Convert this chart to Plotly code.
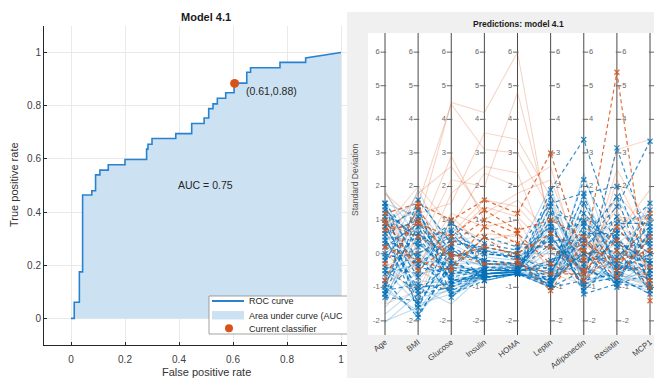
import plotly.graph_objects as go

# ---------------- Left panel: ROC curve data ----------------
roc_fpr = [0, 0.012, 0.012, 0.031, 0.031, 0.043, 0.043, 0.077, 0.077, 0.091, 0.091,
           0.107, 0.107, 0.138, 0.138, 0.2, 0.2, 0.28, 0.28, 0.285, 0.285, 0.3, 0.3,
           0.388, 0.388, 0.447, 0.447, 0.493, 0.493, 0.51, 0.51, 0.526, 0.526, 0.542,
           0.542, 0.573, 0.573, 0.604, 0.604, 0.651, 0.651, 0.665, 0.665, 0.774, 0.774,
           0.869, 0.869, 1.0]
roc_tpr = [0, 0, 0.061, 0.061, 0.175, 0.175, 0.464, 0.464, 0.48, 0.48, 0.54, 0.54,
           0.558, 0.558, 0.578, 0.578, 0.598, 0.598, 0.637, 0.637, 0.655, 0.655, 0.677,
           0.677, 0.695, 0.695, 0.733, 0.733, 0.754, 0.754, 0.789, 0.789, 0.807, 0.807,
           0.828, 0.828, 0.849, 0.849, 0.885, 0.885, 0.926, 0.926, 0.943, 0.943, 0.963,
           0.963, 0.98, 1.0]
op_fpr = [0.606]
op_tpr = [0.884]
auc_value = 0.75
roc_ticks = [0, 0.2, 0.4, 0.6, 0.8, 1]
roc_ticktext = ["0", "0.2", "0.4", "0.6", "0.8", "1"]

# ---------------- Right panel: parallel coordinates data ----------------
features = ["Age", "BMI", "Glucose", "Insulin", "HOMA", "Leptin", "Adiponectin", "Resistin", "MCP1"]
pc_ticks = [-2, -1, 0, 1, 2, 3, 4, 5, 6]

healthy_ok = [
    [-2.05, -1.2, -0.8, -0.6, -0.55, -0.9, 0.3, -0.6, -0.9],
    [-1.6, -0.5, -1.0, -0.5, -0.5, -0.5, -0.4, -0.7, -0.6],
    [-1.2, 0.3, -0.5, -0.7, -0.6, -0.3, 1.0, -0.5, 0.2],
    [-0.8, 1.2, -0.2, -0.3, -0.4, 0.8, -0.6, -0.2, 0.5],
    [-0.5, -1.5, -1.2, -0.6, -0.55, -1.0, 0.5, -0.8, -1.0],
    [0.0, 0.8, -0.6, -0.4, -0.45, 1.2, -0.3, 0.3, 1.0],
    [0.4, -0.8, -0.9, -0.7, -0.6, -0.7, 1.5, -0.4, -0.3],
    [0.9, 1.6, 0.3, -0.2, -0.3, 1.6, -0.8, 0.6, 0.3],
    [1.3, -0.2, -0.3, -0.5, -0.5, -0.2, 0.2, 1.0, -0.5],
    [1.8, 0.5, -1.3, -0.6, -0.6, -0.8, -0.1, -0.3, -0.8],
    [-1.0, -1.8, -0.7, -0.7, -0.6, -1.0, 2.4, -0.6, 0.0],
    [0.2, 0.0, 0.5, -0.1, -0.2, 0.4, -0.5, -0.7, -0.9],
    [-0.3, 1.9, -0.1, 0.2, 0.0, 2.0, -1.0, -0.1, 0.8],
    [0.7, -1.3, -1.1, -0.6, -0.55, -0.9, 0.8, 0.2, -0.2],
    [-1.4, 0.9, 0.0, -0.4, -0.4, 0.6, 0.0, -0.9, -0.4],
    [1.1, -0.6, -0.4, -0.5, -0.5, -0.5, 0.4, -0.5, 1.6],
    [-1.8, -1.0, -1.5, -0.6, -0.55, -0.6, 1.2, -0.2, -0.7],
    [0.5, 0.4, -0.8, -0.7, -0.6, 0.1, -1.1, 0.0, -0.1],
    [-0.6, -0.3, 0.8, 0.0, -0.1, -0.4, 0.6, 1.6, 0.4],
    [1.5, 1.1, -0.3, -0.3, -0.35, 1.0, -0.7, -0.8, -1.1],
    [-2.0, -1.6, -1.0, -0.7, -0.6, -1.0, 0.7, -0.7, -1.2],
    [-1.5, 0.6, -0.4, -0.5, -0.5, 0.2, -0.2, 0.1, -0.3],
    [0.1, -1.1, -0.6, -0.6, -0.55, -0.8, 1.8, -0.4, 0.6],
    [0.8, 1.3, 0.1, -0.3, -0.3, 1.4, -0.9, -0.5, -0.9],
    [-0.7, 0.1, -1.2, -0.7, -0.6, -0.6, 0.0, -0.9, -0.2],
    [1.6, -0.4, 0.6, 0.1, 0.0, 0.0, -0.4, 0.8, 1.2],
    [-1.1, -1.7, -0.3, -0.6, -0.55, -0.9, 1.0, -0.3, -0.6],
    [0.4, 0.7, -0.9, -0.5, -0.5, 0.5, -0.6, -0.6, 0.1],
]
patient_ok = [
    [1.8, 0.9, 4.5, 4.2, 6.0, 0.5, -0.6, 0.8, 0.3],
    [0.6, 1.5, 4.45, 3.1, 3.0, 1.3, -0.4, 1.5, -0.2],
    [-0.4, 0.2, 2.2, 2.0, 4.8, 0.9, -0.8, 3.1, 3.4],
    [1.2, -0.5, 1.8, 2.6, 2.4, -0.2, -0.7, 2.5, 0.8],
    [0.3, 1.8, 2.6, 1.2, 1.8, 2.2, -0.3, 1.1, 1.0],
    [-0.9, -0.3, 1.2, 0.8, 1.0, -0.6, -0.9, 0.5, -0.5],
    [1.0, 0.6, 0.6, 1.6, 1.4, 0.3, -0.5, 1.8, 0.6],
    [-1.5, -1.1, 0.9, 0.4, 0.6, -0.9, 0.3, 0.0, -0.8],
    [0.1, 1.2, 1.5, 3.6, 3.4, 1.7, -0.6, -0.2, 1.4],
    [1.5, -0.8, 0.3, 0.6, 0.5, -0.4, 0.1, 1.3, -0.6],
    [-0.7, 0.5, 2.9, 1.0, 1.6, 0.6, -1.0, 2.2, 0.2],
    [0.8, 2.0, 0.8, 2.4, 2.0, 2.6, -0.8, 0.6, 1.9],
    [-0.2, -1.4, 1.1, 0.2, 0.4, -1.0, 1.2, -0.6, -1.0],
    [1.9, 0.0, 0.5, 1.4, 1.1, 0.1, -0.2, 0.9, 0.9],
]
healthy_wrong = [
    [1.0, -0.4, -0.6, -0.5, -0.5, 1.9, 3.4, 0.4, -0.3],
    [-1.2, 1.1, 0.1, -0.2, -0.3, 0.5, -0.8, 3.15, 0.2],
    [0.4, -1.0, -0.9, -0.6, -0.55, -0.2, 0.3, 1.4, 3.35],
    [1.5, 0.2, 0.9, 0.3, 0.1, 1.5, 1.8, 2.0, -0.5],
    [-0.8, -1.9, -0.2, -0.7, -0.6, -1.0, 1.5, -0.3, 1.3],
    [0.7, 1.4, -1.3, -0.4, -0.5, 1.0, -1.2, -0.9, -1.0],
    [-1.3, -1.4, 0.5, 0.0, -0.1, -0.5, 0.8, -0.6, 0.6],
    [0.2, 0.9, -0.4, 0.5, 0.2, 0.2, -0.3, 0.9, 0.9],
    [-0.4, -0.6, 1.0, -0.5, -0.4, -0.8, 0.0, 0.1, -1.1],
    [1.2, 0.5, -0.8, -0.7, -0.6, 1.2, 1.0, -0.5, 0.4],
    [-1.0, 1.6, 0.3, 0.2, 0.0, 0.8, -0.6, 0.5, -0.7],
    [0.9, -1.2, -1.0, -0.6, -0.5, -0.3, 0.5, -1.0, 1.1],
    [-0.1, 0.0, 0.6, -0.3, -0.3, -0.7, 2.2, 0.3, -0.2],
    [1.4, -0.2, -0.7, -0.5, -0.45, 0.6, -1.0, 0.7, 0.0],
    [-0.6, 0.6, -0.1, 0.1, -0.2, -1.0, -0.5, -0.8, 0.7],
    [0.5, -1.6, 0.2, -0.8, -0.6, 1.7, 0.2, 1.1, -0.9],
    [-1.1, -0.9, -1.1, -0.7, -0.6, -0.9, 0.1, -0.4, -0.5],
    [0.3, 0.3, -0.5, -0.5, -0.5, 0.3, -0.9, -0.7, -1.2],
    [1.1, -1.5, 0.0, -0.2, -0.3, -0.6, 1.2, 0.2, 0.3],
    [-0.9, 0.8, -0.8, -0.6, -0.55, 1.4, -0.4, -0.9, -0.6],
    [0.0, -0.3, 0.4, 0.1, -0.1, -0.9, 0.6, 0.6, 1.5],
    [0.6, 1.0, -0.6, -0.4, -0.4, 0.9, -1.1, -0.2, -0.8],
    [-0.5, -1.1, -0.3, -0.6, -0.5, -0.4, 1.7, -0.5, 0.0],
    [1.3, 0.4, 0.7, 0.0, -0.1, 0.4, 0.4, 1.7, -1.0],
    [-1.2, -0.1, -1.2, -0.8, -0.6, -0.8, -0.2, -0.1, 0.8],
    [0.8, -0.7, 0.2, -0.3, -0.35, -1.0, -0.8, -0.6, -0.3],
    [-0.2, 1.3, -0.9, -0.5, -0.5, 0.7, 0.9, 0.4, -1.1],
    [1.5, -1.8, -0.4, -0.7, -0.6, -0.7, 0.0, -0.8, 0.5],
]
patient_wrong = [
    [1.2, 1.5, 1.0, 1.6, 1.2, 3.0, -0.2, 5.4, -1.4],
    [0.7, 0.9, 0.5, 1.3, 0.7, 1.0, 0.5, -0.5, 1.2],
    [-0.8, 1.4, -0.4, 0.8, 0.3, 0.2, -0.5, 0.4, -0.8],
    [0.2, -0.2, -0.5, 0.5, -0.2, -1.1, 0.3, -0.2, 0.1],
    [0.9, 0.5, 0.0, -0.3, -0.3, -0.6, -0.6, 0.8, -0.4],
    [-0.3, 1.0, -0.1, 0.2, 0.0, 0.6, 0.1, -0.7, 0.5],
    [1.0, -0.5, 0.3, 1.0, 0.6, -0.3, -0.8, 0.1, -1.0],
]

# ---------------- helpers ----------------
W, H = 654, 378


def px(x):
    return x / W


def py(y):
    return 1 - y / H


def flatten(rows):
    xs, ys = [], []
    for r in rows:
        xs += list(range(1, len(features) + 1)) + [None]
        ys += list(r) + [None]
    return xs, ys


ORANGE = "#D95319"
FONT = "Liberation Sans, Arial, sans-serif"

fig = go.Figure()

# ---- ROC ----
fig.add_trace(go.Scatter(x=roc_fpr, y=roc_tpr, mode="lines", fill="tozeroy",
                         fillcolor="#cce2f2", line=dict(width=0, color="#cce2f2"),
                         hoverinfo="skip", xaxis="x", yaxis="y"))
fig.add_trace(go.Scatter(x=roc_fpr, y=roc_tpr, mode="lines",
                         line=dict(color="#2a82cf", width=1.6),
                         xaxis="x", yaxis="y"))
fig.add_trace(go.Scatter(x=op_fpr, y=op_tpr, mode="markers",
                         marker=dict(color=ORANGE, size=9), xaxis="x", yaxis="y"))

# ---- parallel coordinates ----
for rows, color, dashed in [(patient_ok, "rgba(217,83,25,0.24)", False),
                            (healthy_ok, "rgba(0,114,189,0.26)", False),
                            (healthy_wrong, "rgba(0,114,189,0.8)", True),
                            (patient_wrong, "rgba(217,83,25,0.85)", True)]:
    xs, ys = flatten(rows)
    if dashed:
        fig.add_trace(go.Scatter(x=xs, y=ys, mode="lines+markers",
                                 line=dict(color=color, width=1.2, dash="4px,3px"),
                                 marker=dict(symbol="x-thin", size=5,
                                             line=dict(color=color, width=1.3)),
                                 connectgaps=False, xaxis="x2", yaxis="y2"))
    else:
        fig.add_trace(go.Scatter(x=xs, y=ys, mode="lines",
                                 line=dict(color=color, width=1.1),
                                 connectgaps=False, xaxis="x2", yaxis="y2"))

# per-axis ticks and labels (labels of the last axis fall outside the picture)
for side, pos, idxs in [(-1, "middle left", range(1, 6)), (1, "middle right", range(6, 10))]:
    tx, ty, tt, mx, my = [], [], [], [], []
    for i in idxs:
        for v in pc_ticks:
            mx.append(i + side * 0.05)
            my.append(v)
            if i < len(features):
                tx.append(i + side * 0.16)
                ty.append(v)
                tt.append(str(v))
    fig.add_trace(go.Scatter(x=mx, y=my, mode="markers",
                             marker=dict(symbol="line-ew", size=4,
                                         line=dict(color="#666666", width=1)),
                             xaxis="x2", yaxis="y2", hoverinfo="skip"))
    fig.add_trace(go.Scatter(x=tx, y=ty, mode="text", text=tt, textposition=pos,
                             textfont=dict(family=FONT, size=7.5, color="#666666"),
                             xaxis="x2", yaxis="y2", hoverinfo="skip"))

shapes = [
    # right panel background and plot area
    dict(type="rect", xref="paper", yref="paper", x0=px(347), x1=1, y0=0, y1=py(12),
         fillcolor="#f0f0f0", line=dict(width=0), layer="below"),
    dict(type="rect", xref="paper", yref="paper", x0=px(368), x1=1, y0=py(335), y1=py(33),
         fillcolor="white", line=dict(width=0), layer="below"),
]
for i in range(1, len(features) + 1):
    shapes.append(dict(type="line", xref="x2", yref="y2 domain", x0=i, x1=i, y0=0, y1=1,
                       line=dict(color="#4a4a4a", width=1), layer="below"))

# legend box of left panel (right part hidden by the right panel)
lg_l, lg_t, lg_b, lg_r = 209, 296, 334, 347
shapes += [
    dict(type="rect", xref="paper", yref="paper", x0=px(lg_l), x1=px(lg_r), y0=py(lg_b), y1=py(lg_t),
         fillcolor="white", line=dict(width=0), layer="above"),
    dict(type="line", xref="paper", yref="paper", x0=px(lg_l), x1=px(lg_r), y0=py(lg_t), y1=py(lg_t),
         line=dict(color="#8a8a8a", width=0.8), layer="above"),
    dict(type="line", xref="paper", yref="paper", x0=px(lg_l), x1=px(lg_r), y0=py(lg_b), y1=py(lg_b),
         line=dict(color="#8a8a8a", width=0.8), layer="above"),
    dict(type="line", xref="paper", yref="paper", x0=px(lg_l), x1=px(lg_l), y0=py(lg_b), y1=py(lg_t),
         line=dict(color="#8a8a8a", width=0.8), layer="above"),
    dict(type="line", xref="paper", yref="paper", x0=px(212), x1=px(244), y0=py(301), y1=py(301),
         line=dict(color="#2a82cf", width=2), layer="above"),
    dict(type="rect", xref="paper", yref="paper", x0=px(212), x1=px(244), y0=py(319.5), y1=py(311),
         fillcolor="#cce2f2", line=dict(width=0), layer="above"),
    dict(type="circle", xref="paper", yref="paper", x0=px(225), x1=px(233), y0=py(332.3), y1=py(324.3),
         fillcolor=ORANGE, line=dict(width=0), layer="above"),
]


def note(text, x, y, size, color="#262626", xanchor="center", angle=0, ref="paper", family=FONT):
    return dict(text=text, x=x, y=y, xref=ref if ref == "paper" else "x",
                yref=ref if ref == "paper" else "y", xanchor=xanchor, yanchor="middle",
                showarrow=False, textangle=angle,
                font=dict(family=family, size=size, color=color))


ann = [
    note("<b>Model 4.1</b>", px(206), py(17), 11, "#1a1a1a"),
    note("False positive rate", px(206), py(372), 11, "#333333"),
    note("True positive rate", px(14), py(185), 11, "#333333", angle=-90),
    note("AUC = %.2f" % auc_value, 0.497, 0.502, 10.5, ref="data"),
    note("(%.2f,%.2f)" % (op_fpr[0], op_tpr[0]), 0.64, 0.855, 10.5, xanchor="left", ref="data"),
    note("ROC curve", px(247), py(301), 9, xanchor="left"),
    note("Area under curve (AUC", px(247), py(315.5), 9, xanchor="left"),
    note("Current classifier", px(247), py(328.5), 9, xanchor="left"),
    note("<b>Predictions: model 4.1</b>", px(518), py(24), 8.5, "#1a1a1a"),
    note("Standard Deviation", px(355), py(180), 8.5, "#555555", angle=-90),
]

fig.update_layout(
    width=W, height=H, margin=dict(l=0, r=0, t=0, b=0),
    paper_bgcolor="white", plot_bgcolor="white", showlegend=False,
    shapes=shapes, annotations=ann,
    xaxis=dict(domain=[px(44), px(347)], range=[-0.1, 1.0222], anchor="y",
               tickvals=roc_ticks, ticktext=roc_ticktext, ticks="inside", ticklen=3,
               tickcolor="#262626", showline=True, linecolor="#262626", linewidth=1,
               showgrid=True, gridcolor="#e9e9e9", zeroline=False, ticklabelstandoff=5,
               tickfont=dict(family=FONT, size=10, color="#404040")),
    yaxis=dict(domain=[py(345), py(26)], range=[-0.1, 1.1], anchor="x",
               tickvals=roc_ticks, ticktext=roc_ticktext, ticks="inside", ticklen=3,
               tickcolor="#262626", showline=True, linecolor="#262626", linewidth=1,
               showgrid=True, gridcolor="#e9e9e9", zeroline=False,
               tickfont=dict(family=FONT, size=10, color="#404040")),
    xaxis2=dict(domain=[px(368), 1], range=[0.487, 9.12], anchor="y2",
                tickvals=list(range(1, len(features) + 1)), ticktext=features,
                tickangle=-38, ticks="", showline=False, showgrid=False, zeroline=False,
                ticklabeloverflow="allow",
                tickfont=dict(family=FONT, size=8, color="#404040")),
    yaxis2=dict(domain=[py(335), py(33)], range=[-2.42, 6.57], anchor="x2",
                visible=False, showgrid=False, zeroline=False),
)

fig.write_html("out.html", config={"displayModeBar": False},
               post_script="document.body.style.margin='0';document.body.style.padding='0';"
                           "document.body.style.overflow='hidden';")
